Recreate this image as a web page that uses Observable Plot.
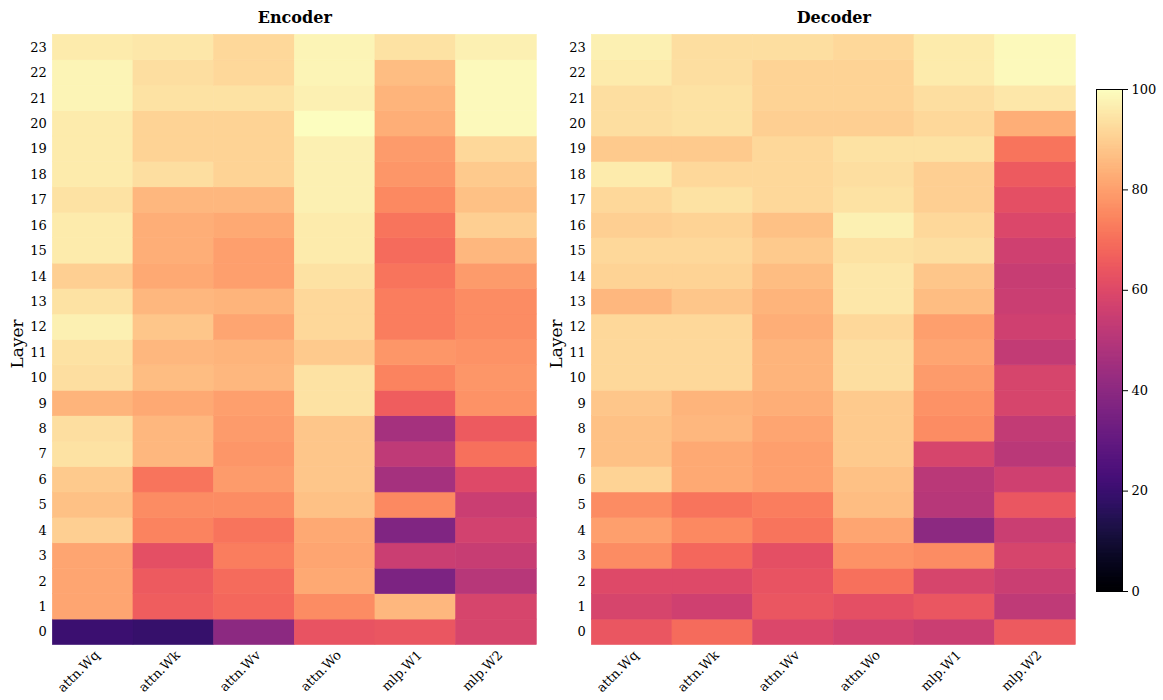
<!DOCTYPE html>
<html>
<head>
<meta charset="utf-8">
<script src="https://cdn.jsdelivr.net/npm/d3@7"></script>
<script src="https://cdn.jsdelivr.net/npm/@observablehq/plot@0.6"></script>
<style>
  html, body { margin: 0; padding: 0; background: #fff; }
  #wrap { position: relative; width: 1163px; height: 700px; overflow: hidden; }
  #wrap > svg, #wrap > figure { position: absolute; top: 0; margin: 0; }
</style>
</head>
<body>
<div id="wrap"></div>
<script>
// ---- data ----
const layers = d3.range(0, 24); // 0..23
const columns = ["attn.Wq", "attn.Wk", "attn.Wv", "attn.Wo", "mlp.W1", "mlp.W2"];
const colorTicks = [0, 20, 40, 60, 80, 100];

// Encoder values per column, layer 0 -> 23
const encWq = [20, 81, 81, 81, 90, 87, 89, 94, 93, 84, 93, 94, 97, 94, 90, 96, 96, 94, 96, 96, 96, 98, 98, 96];
const encWk = [19, 66, 65, 62, 74, 76, 71, 85, 85, 82, 86, 85, 88, 85, 82, 83, 83, 85, 93, 91, 91, 94, 93, 95];
const encWv = [40, 68, 69, 73, 71, 76, 79, 78, 79, 80, 85, 84, 81, 84, 80, 80, 82, 85, 91, 91, 91, 94, 92, 92];
const encWo = [63, 76, 82, 81, 82, 87, 88, 88, 88, 94, 94, 89, 92, 92, 94, 96, 96, 97, 97, 97, 100, 97, 98, 98];
const encW1 = [64, 85, 36, 55, 37, 75, 46, 52, 46, 66, 74, 78, 73, 73, 71, 69, 71, 75, 78, 79, 83, 84, 86, 94];
const encW2 = [58, 58, 50, 54, 57, 55, 60, 70, 65, 77, 78, 77, 76, 76, 79, 85, 90, 87, 89, 92, 99, 99, 99, 97];

// Decoder values per column, layer 0 -> 23
const decWq = [64, 58, 60, 76, 80, 76, 91, 87, 87, 88, 92, 92, 92, 85, 91, 92, 90, 92, 96, 89, 93, 93, 96, 97];
const decWk = [69, 56, 60, 68, 75, 71, 82, 82, 85, 84, 92, 92, 92, 88, 91, 92, 91, 94, 92, 89, 94, 94, 93, 93];
const decWv = [59, 64, 63, 62, 71, 73, 80, 80, 81, 83, 84, 84, 83, 84, 86, 89, 87, 92, 92, 92, 90, 91, 91, 93];
const decWo = [57, 62, 70, 77, 81, 86, 87, 89, 89, 89, 93, 93, 92, 95, 95, 94, 97, 94, 93, 94, 90, 91, 91, 92];
const decW1 = [55, 64, 58, 76, 40, 50, 51, 58, 76, 77, 79, 81, 80, 86, 88, 93, 92, 90, 90, 94, 92, 93, 96, 96];
const decW2 = [65, 52, 55, 58, 55, 64, 56, 51, 53, 58, 58, 53, 56, 55, 54, 56, 59, 62, 65, 71, 83, 95, 99, 99];

const encoder = [encWq, encWk, encWv, encWo, encW1, encW2];
const decoder = [decWq, decWk, decWv, decWo, decW1, decW2];

function toTable(cols) {
  const out = [];
  cols.forEach((vals, ci) => vals.forEach((v, li) => out.push({col: columns[ci], layer: layers[li], value: v})));
  return out;
}

const FONT = "DejaVu Serif";
const H = 700;
const colorScale = {type: "linear", scheme: "magma", domain: [0, 100]};

function panel(title, cols, left) {
  const data = toTable(cols);
  const svg = Plot.plot({
    width: 545, height: H,
    marginLeft: 52.3, marginRight: 8.7, marginTop: 34.3, marginBottom: 55.5,
    style: {fontFamily: FONT, fontSize: "13px", color: "#000", background: "transparent"},
    x: {type: "band", domain: columns, padding: 0, round: false, label: null},
    y: {type: "band", domain: layers.slice().reverse(), padding: 0, round: false, label: null, tickSize: 0, tickPadding: 6},
    color: colorScale,
    marks: [
      Plot.cell(data, {x: "col", y: "layer", fill: "value", inset: 0, stroke: "value", strokeWidth: 0.6}),
      Plot.axisX({tickSize: 0, tickPadding: 5, tickRotate: -45, label: null, dx: 4, dy: 3}),
      Plot.text([title], {frameAnchor: "top", lineAnchor: "middle", textAnchor: "middle", dy: -17, text: d => d, fontWeight: "bold", fontSize: 16, fill: "#000"}),
      Plot.text(["Layer"], {frameAnchor: "left", lineAnchor: "middle", textAnchor: "middle", dx: -35, dy: 4, rotate: -90, text: d => d, fontSize: 17, fill: "#000"})
    ]
  });
  svg.style.left = left + "px";
  return svg;
}

const wrap = document.getElementById("wrap");
wrap.appendChild(panel("Encoder", encoder, 0));
wrap.appendChild(panel("Decoder", decoder, 539));

// colorbar
const barSteps = d3.range(0, 100, 0.25);
const cbar = Plot.plot({
  width: 93, height: H,
  marginLeft: 26, marginRight: 41, marginTop: 89, marginBottom: H - 591,
  style: {fontFamily: FONT, fontSize: "13px", color: "#000", background: "transparent"},
  x: {domain: [0, 1], axis: null},
  y: {domain: [0, 100], axis: "right", ticks: colorTicks, tickSize: 5, tickPadding: 4, label: null, tickFormat: d3.format("d")},
  color: colorScale,
  marks: [
    Plot.rect(barSteps, {x1: 0, x2: 1, y1: d => d, y2: d => Math.min(100, d + 0.6), fill: d => d + 0.125}),
    Plot.frame({stroke: "#000", strokeWidth: 1})
  ]
});
cbar.style.left = "1070px";
wrap.appendChild(cbar);
</script>
</body>
</html>
